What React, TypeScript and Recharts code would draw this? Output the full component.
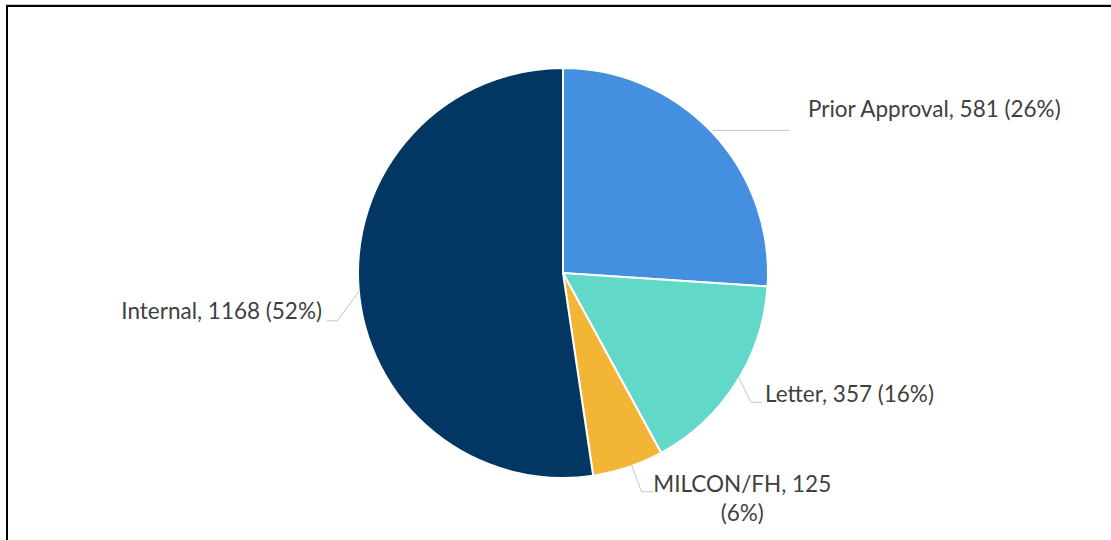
import React from "react";
import { PieChart, Pie, Cell } from "recharts";

const categories = ["Prior Approval", "Letter", "MILCON/FH", "Internal"];
const values = [581, 357, 125, 1168];
const colors = ["#448fe0", "#62d9c8", "#f2b535", "#023663"];

// label layout: offsets relative to the slice's outer-edge midpoint
const labelLayout = [
  { line: [[0, -2.5], [77, -2.5]], tx: 95.3, ty: [-15.7], anchor: "start", wrap: false },
  { line: [[3, -6], [15, 19], [26, 19]], tx: 29.2, ty: [19], anchor: "start", wrap: false },
  { line: [[3.3, -2.3], [13.3, 24.4], [25, 24.4]], tx: 114, ty: [24.7, 53.7], anchor: "middle", wrap: true },
  { line: [[1.4, 2], [-21.3, 32.7], [-31.9, 32.7]], tx: -36.6, ty: [31], anchor: "end", wrap: false },
];

const data = categories.map((name, i) => ({ name, value: values[i] }));
const RAD = Math.PI / 180;

const renderLabel = (props: any) => {
  const { cx, cy, midAngle, outerRadius, index, percent, name, value } = props;
  const ex = cx + outerRadius * Math.cos(-midAngle * RAD);
  const ey = cy + outerRadius * Math.sin(-midAngle * RAD);
  const lay = labelLayout[index];
  const pct = Math.round(percent * 100);
  const lines = lay.wrap
    ? [`${name}, ${value}`, `(${pct}%)`]
    : [`${name}, ${value} (${pct}%)`];
  const d = lay.line
    .map((p, i) => `${i === 0 ? "M" : "L"}${ex + p[0]},${ey + p[1]}`)
    .join(" ");
  return (
    <g key={`lbl-${index}`}>
      <path d={d} stroke="#c4c4c4" strokeWidth={1} fill="none" />
      {lines.map((t, i) => (
        <text
          key={i}
          x={ex + lay.tx}
          y={ey + lay.ty[i]}
          textAnchor={lay.anchor as any}
          fill="#3f3f3f"
          fontSize={22.5}
          fontFamily="Lato, 'Open Sans', sans-serif"
        >
          {t}
        </text>
      ))}
    </g>
  );
};

export default function App() {
  return (
    <div
      style={{
        position: "fixed",
        left: 0,
        top: 0,
        width: 1111,
        height: 540,
        background: "#ffffff",
        overflow: "hidden",
      }}
    >
      <div
        style={{
          position: "absolute",
          left: 6,
          top: 4,
          width: 1200,
          height: 600,
          borderTop: "1px solid #c8c8c8",
        }}
      />
      <div
        style={{
          position: "absolute",
          left: 6,
          top: 5,
          width: 1200,
          height: 600,
          borderTop: "2px solid #000",
          borderLeft: "2px solid #000",
        }}
      />
      <div style={{ position: "absolute", left: 0, top: 0 }}>
        <PieChart width={1111} height={540} margin={{ top: 0, right: 0, bottom: 0, left: 0 }}>
          <Pie
            data={data}
            dataKey="value"
            nameKey="name"
            cx={563}
            cy={273}
            outerRadius={205}
            startAngle={90}
            endAngle={-270}
            stroke="#ffffff"
            strokeWidth={2}
            label={renderLabel}
            labelLine={false}
            isAnimationActive={false}
          >
            {data.map((d, i) => (
              <Cell key={d.name} fill={colors[i]} />
            ))}
          </Pie>
        </PieChart>
      </div>
    </div>
  );
}
